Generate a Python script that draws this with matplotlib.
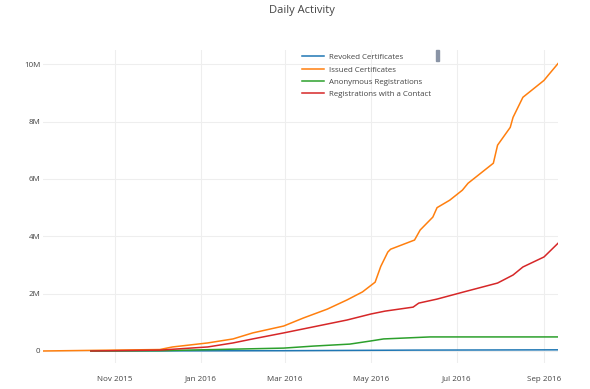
import numpy as np
import matplotlib
matplotlib.use("Agg")
import matplotlib.pyplot as plt
import matplotlib.dates as mdates
from matplotlib.patches import Rectangle

plt.rcParams['font.family'] = ['Open Sans', 'DejaVu Sans']

# values in millions
revoked_dates = ['2015-10-15', '2016-03-01', '2016-06-01', '2016-09-11']
revoked_vals = [0, 0.01, 0.03, 0.04]

issued_dates = ['2015-09-11', '2015-12-03', '2015-12-12', '2016-01-06', '2016-01-24',
                '2016-02-07', '2016-02-29', '2016-03-14', '2016-03-31', '2016-04-14',
                '2016-04-25', '2016-05-04', '2016-05-08', '2016-05-13', '2016-05-15',
                '2016-06-01', '2016-06-05', '2016-06-14', '2016-06-17', '2016-06-26',
                '2016-07-05', '2016-07-09', '2016-07-18', '2016-07-27', '2016-07-30',
                '2016-08-08', '2016-08-10', '2016-08-17', '2016-09-01', '2016-09-04',
                '2016-09-11']
issued_vals = [0, 0.05, 0.14, 0.28, 0.42,
               0.63, 0.87, 1.15, 1.46, 1.78,
               2.06, 2.40, 2.95, 3.45, 3.55,
               3.87, 4.22, 4.67, 5.0, 5.26,
               5.61, 5.85, 6.20, 6.55, 7.18,
               7.80, 8.15, 8.85, 9.44, 9.62,
               10.03]

anon_dates = ['2015-10-15', '2015-12-03', '2016-02-29', '2016-03-21', '2016-04-16',
              '2016-05-01', '2016-05-10', '2016-06-12', '2016-09-11']
anon_vals = [0, 0.01, 0.10, 0.17, 0.24, 0.35, 0.42, 0.49, 0.49]

contact_dates = ['2015-10-15', '2015-12-03', '2016-01-06', '2016-01-24', '2016-02-07',
                 '2016-02-29', '2016-03-21', '2016-04-14', '2016-05-01', '2016-05-11',
                 '2016-05-21', '2016-05-31', '2016-06-04', '2016-06-17', '2016-07-06',
                 '2016-07-30', '2016-08-10', '2016-08-17', '2016-09-01', '2016-09-11']
contact_vals = [0, 0.03, 0.14, 0.28, 0.42,
                0.63, 0.84, 1.08, 1.29, 1.39,
                1.46, 1.53, 1.67, 1.81, 2.06,
                2.37, 2.65, 2.93, 3.28, 3.76]

series = [
    ('Revoked Certificates', revoked_dates, revoked_vals, '#1f77b4'),
    ('Issued Certificates', issued_dates, issued_vals, '#ff7f0e'),
    ('Anonymous Registrations', anon_dates, anon_vals, '#2ca02c'),
    ('Registrations with a Contact', contact_dates, contact_vals, '#d62728'),
]

fig = plt.figure(figsize=(5.9, 3.89), dpi=100)
ax = fig.add_axes([0.0729, 0.0668, 0.873, 0.8047])

for name, d, v, c in series:
    ax.plot(np.array(d, dtype='datetime64[D]'), np.array(v) * 1e6,
            color=c, lw=1.1, label=name)

ax.set_xlim(np.datetime64('2015-09-11'), np.datetime64('2016-09-11'))
ax.set_ylim(-0.42e6, 10.5e6)

ax.set_yticks(np.arange(0, 11e6, 2e6))
ax.yaxis.set_major_formatter(plt.FuncFormatter(lambda v, p: '0' if v == 0 else '%dM' % (v / 1e6)))
ax.xaxis.set_major_locator(mdates.MonthLocator(bymonth=[1, 3, 5, 7, 9, 11]))
ax.xaxis.set_major_formatter(mdates.DateFormatter('%b %Y'))

ax.grid(True, color='#eeeeee', lw=0.8)
ax.set_axisbelow(True)
for s in ax.spines.values():
    s.set_visible(False)
ax.tick_params(length=0, labelsize=5.8, labelcolor='#444444')
ax.tick_params(axis='y', pad=1.8)
ax.tick_params(axis='x', pad=9)

fig.text(0.512, 0.988, 'Daily Activity', ha='center', va='top', fontsize=8, color='#444444')

leg = fig.legend(loc='upper left', bbox_to_anchor=(0.512, 0.862), frameon=False,
                 fontsize=5.7, labelspacing=0.6, handlelength=2.8, handletextpad=0.55,
                 borderpad=0, borderaxespad=0)
for t in leg.get_texts():
    t.set_color('#444444')

# legend scroll handle
fig.patches.append(Rectangle((436 / 590, 1 - 61 / 389), 3 / 590, 11 / 389,
                             transform=fig.transFigure, color='#8a94a6', zorder=5))

fig.savefig('out.png', dpi=100)
